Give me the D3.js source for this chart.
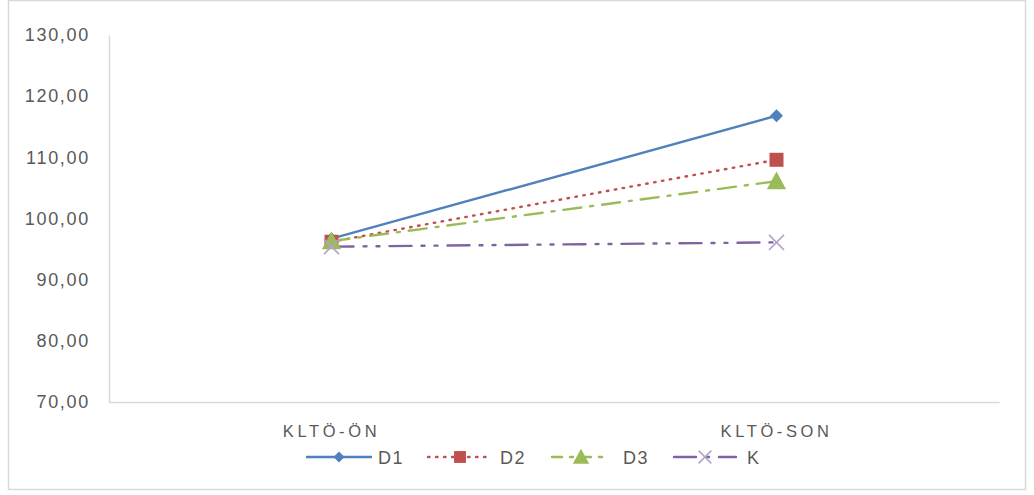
<!DOCTYPE html>
<html>
<head>
<meta charset="utf-8">
<script src="https://d3js.org/d3.v7.min.js"></script>
<style>
  html, body { margin: 0; padding: 0; background: #fff; }
  svg { display: block; }
</style>
</head>
<body>
<svg id="chart" width="1034" height="495"></svg>
<script>
// Categories and series values
const categories = ["KLTÖ-ÖN", "KLTÖ-SON"];
const seriesNames = ["D1", "D2", "D3", "K"];
const d1 = [96.7, 116.8];
const d2 = [96.2, 109.6];
const d3v = [96.3, 106.1];
const k  = [95.4, 96.1];
const yTicks = [70, 80, 90, 100, 110, 120, 130];

const series = [
  { name: seriesNames[0], values: d1,  color: "#4f81bd", dash: null,              marker: "diamond",  mcolor: "#4f81bd" },
  { name: seriesNames[1], values: d2,  color: "#c0504d", dash: "1.5,6.5",         marker: "square",   mcolor: "#c0504d" },
  { name: seriesNames[2], values: d3v, color: "#9bbb59", dash: "18,9,3,9",        marker: "triangle", mcolor: "#9bbb59" },
  { name: seriesNames[3], values: k,   color: "#8064a2", dash: "22,10,3,10,3,10", marker: "cross",    mcolor: "#b3a2c7" }
];

const FONT = "Liberation Sans, Arial, sans-serif";
const svg = d3.select("#chart");

// Outer chart border
svg.append("rect")
  .attr("x", 8.5).attr("y", 0.5).attr("width", 1017).attr("height", 489)
  .attr("fill", "#fff").attr("stroke", "#d9d9d9").attr("stroke-width", 1.5);

const plot = { left: 109, right: 999, top: 35, bottom: 402 };

const x = d3.scaleBand().domain(categories).range([plot.left, plot.right]);
const y = d3.scaleLinear().domain([70, 130]).range([plot.bottom, plot.top]);

// Y axis
const yAxis = d3.axisLeft(y).tickValues(yTicks).tickSize(0).tickPadding(19)
  .tickFormat(d => d3.format(".2f")(d).replace(".", ","));
const gy = svg.append("g").attr("transform", `translate(${plot.left},0)`).call(yAxis);
gy.select(".domain").attr("stroke", "#d9d9d9").attr("stroke-width", 1.5);
gy.selectAll("text").attr("fill", "#595959").style("font-family", FONT)
  .style("font-size", "18px").style("letter-spacing", "1.7px");

// X axis
const xAxis = d3.axisBottom(x).tickSize(0).tickPadding(23);
const gx = svg.append("g").attr("transform", `translate(0,${plot.bottom})`).call(xAxis);
gx.select(".domain").attr("stroke", "#d9d9d9").attr("stroke-width", 1.5);
gx.selectAll("text").attr("fill", "#595959").style("font-family", FONT)
  .style("font-size", "16.5px").style("letter-spacing", "3.6px");

const cx = c => x(c) + x.bandwidth() / 2;

function drawMarker(g, type, color, px, py, s) {
  if (type === "diamond") {
    const h = s / 2;
    g.append("path").attr("d", `M${px},${py - h}L${px + h},${py}L${px},${py + h}L${px - h},${py}Z`).attr("fill", color);
  } else if (type === "square") {
    g.append("rect").attr("x", px - s / 2).attr("y", py - s / 2).attr("width", s).attr("height", s).attr("fill", color);
  } else if (type === "triangle") {
    g.append("path").attr("d", `M${px},${py - s * 0.6}L${px + s * 0.6},${py + s * 0.5}L${px - s * 0.6},${py + s * 0.5}Z`).attr("fill", color);
  } else if (type === "cross") {
    const h = s / 2;
    g.append("path").attr("d", `M${px - h},${py - h}L${px + h},${py + h}M${px - h},${py + h}L${px + h},${py - h}`)
      .attr("stroke", color).attr("stroke-width", 1.5).attr("fill", "none");
  }
}

const line = d3.line().x((d, i) => cx(categories[i])).y(d => y(d));

// Series lines
series.forEach(s => {
  svg.append("path").datum(s.values).attr("d", line)
    .attr("fill", "none").attr("stroke", s.color).attr("stroke-width", 2.4)
    .attr("stroke-dasharray", s.dash).attr("stroke-linecap", s.dash ? "round" : "butt");
});

// Markers
const sizes = { diamond: 13, square: 14, triangle: 16, cross: 15 };
series.forEach(s => {
  const g = svg.append("g");
  s.values.forEach((v, i) => drawMarker(g, s.marker, s.mcolor, cx(categories[i]), y(v), sizes[s.marker]));
});

// Legend
const legendY = 457;
const legendItems = [
  { x0: 306, x1: 372, tx: 378 },
  { x0: 428, x1: 492, tx: 500 },
  { x0: 552, x1: 610, tx: 623 },
  { x0: 674, x1: 736, tx: 747 }
];
series.forEach((s, i) => {
  const L = legendItems[i];
  const g = svg.append("g");
  g.append("line").attr("x1", L.x0).attr("x2", L.x1).attr("y1", legendY).attr("y2", legendY)
    .attr("stroke", s.color).attr("stroke-width", 2.4)
    .attr("stroke-dasharray", s.dash ? (i === 2 ? "10,8,3,8" : i === 3 ? "22,10,3,10" : s.dash) : null)
    .attr("stroke-linecap", s.dash ? "round" : "butt");
  drawMarker(g, s.marker, s.mcolor, (L.x0 + L.x1) / 2, legendY, sizes[s.marker] * 0.85);
  g.append("text").attr("x", L.tx).attr("y", legendY + 6.5).text(s.name)
    .attr("fill", "#595959").style("font-family", FONT).style("font-size", "18px")
    .style("letter-spacing", "1.5px");
});
</script>
</body>
</html>
